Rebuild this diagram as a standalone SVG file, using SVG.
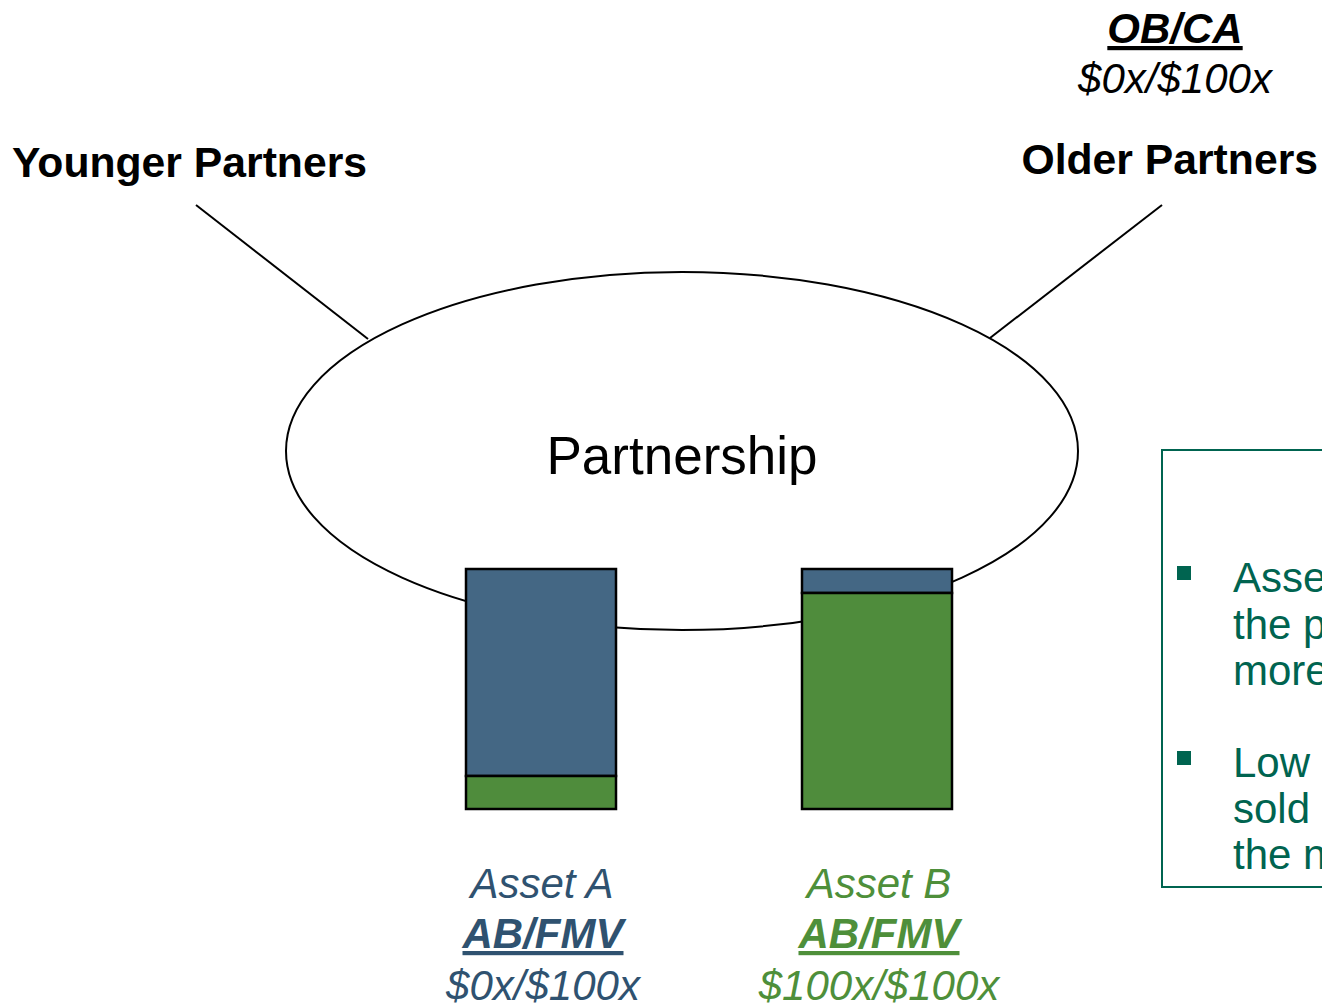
<svg xmlns="http://www.w3.org/2000/svg" width="1322" height="1005" viewBox="0 0 1322 1005">
<style>
text{font-family:"Liberation Sans",Arial,sans-serif;font-size:42px}
.b{font-weight:bold}
.lbl{font-size:42.7px}
.i{font-style:italic}
.u{text-decoration:underline}
.blue{fill:#2F5270}
.green{fill:#4E8F3A}
.note{fill:#006450}
.bar{stroke:#000;stroke-width:2.5}
</style>
<rect width="1322" height="1005" fill="#fff"/>
<g id="connectors" stroke="#000" stroke-width="2" fill="none">
<line x1="196" y1="205" x2="368" y2="339"/>
<line x1="1162" y1="205" x2="990" y2="338"/>
</g>
<g id="partnership">
<ellipse cx="682" cy="451" rx="396" ry="179" fill="#fff" stroke="#000" stroke-width="2"/>
<text x="682" y="474" text-anchor="middle" style="font-size:53px">Partnership</text>
</g>
<g id="younger-partners">
<text x="12" y="177" class="b lbl">Younger Partners</text>
</g>
<g id="older-partners">
<text x="1318" y="174" class="b lbl" text-anchor="end">Older Partners</text>
<text x="1175" y="43" class="b i u" text-anchor="middle">OB/CA</text>
<text x="1175" y="93" class="i" text-anchor="middle">$0x/$100x</text>
</g>
<g id="asset-a">
<rect x="466" y="569" width="150" height="207" fill="#446784" class="bar"/>
<rect x="466" y="776" width="150" height="33" fill="#4F8C3C" class="bar"/>
<text x="542" y="898" class="i blue" text-anchor="middle">Asset A</text>
<text x="543" y="948" class="b i u blue" text-anchor="middle">AB/FMV</text>
<text x="543" y="1000" class="i blue" text-anchor="middle">$0x/$100x</text>
</g>
<g id="asset-b">
<rect x="802" y="569" width="150" height="24" fill="#446784" class="bar"/>
<rect x="802" y="593" width="150" height="216" fill="#4F8C3C" class="bar"/>
<text x="879" y="898" class="i green" text-anchor="middle">Asset B</text>
<text x="879" y="948" class="b i u green" text-anchor="middle">AB/FMV</text>
<text x="879" y="1000" class="i green" text-anchor="middle">$100x/$100x</text>
</g>
<g id="note-box">
<rect x="1162" y="450" width="220" height="437" fill="none" stroke="#006450" stroke-width="2"/>
<rect x="1177" y="566" width="14" height="14" fill="#006450"/>
<rect x="1177" y="751" width="14" height="14" fill="#006450"/>
<text x="1233" y="592" class="note">Asse</text>
<text x="1233" y="639" class="note">the p</text>
<text x="1233" y="685" class="note">more</text>
<text x="1233" y="777" class="note">Low</text>
<text x="1233" y="823" class="note">sold</text>
<text x="1233" y="869" class="note">the n</text>
</g>
</svg>
